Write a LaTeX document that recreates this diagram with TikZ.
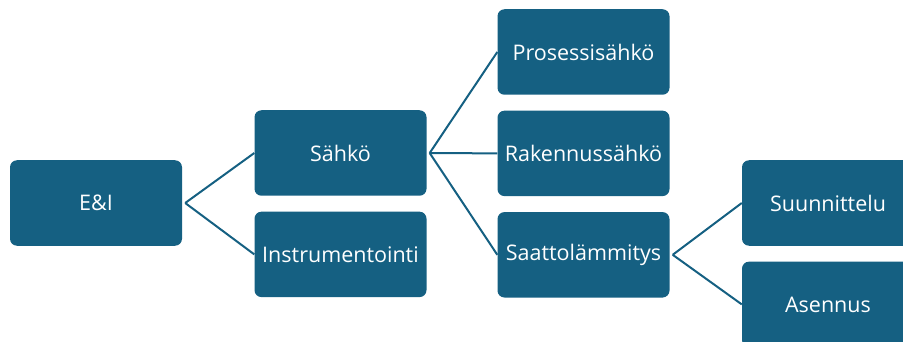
\documentclass[tikz,border=0pt]{standalone}
\usepackage{fontspec}
\setmainfont{Open Sans}
\usepackage{xcolor}
\usepackage{tikz}
\usetikzlibrary{positioning}
\definecolor{boxblue}{HTML}{156082}

\begin{document}
\begin{tikzpicture}[x=1pt, y=-1pt,
  every node/.style={inner sep=1.5pt},
  box/.style={rectangle, rounded corners=7pt, fill=boxblue, text=white,
    minimum width=172pt, minimum height=85.5pt, font=\fontsize{21.5}{24}\selectfont},
  link/.style={draw=boxblue, line width=2pt}]
  \useasboundingbox (0,0) rectangle (903,342);
  \node[box] (ei) at (96,203) {E\&I};
  \node[box] (sahko) at (340.5,153) {Sähkö};
  \node[box,below=15.5pt of sahko] (instr) {Instrumentointi};
  \node[box] (prosessi) at (583.5,52) {Prosessisähkö};
  \node[box,below=15.5pt of prosessi] (rakennus) {Rakennussähkö};
  \node[box,below=15.5pt of rakennus] (saatto) {Saattolämmitys};
  \node[box] (suunn) at (828,203) {Suunnittelu};
  \node[box,below=15.5pt of suunn] (asennus) {Asennus};
  \draw[link] ([xshift=3pt]ei.east) -- (sahko.west);
  \draw[link] ([xshift=3pt]ei.east) -- (instr.west);
  \draw[link] ([xshift=3pt]sahko.east) -- (prosessi.west);
  \draw[link] ([xshift=3pt]sahko.east) -- (rakennus.west);
  \draw[link] ([xshift=3pt]sahko.east) -- (saatto.west);
  \draw[link] ([xshift=3pt]saatto.east) -- (suunn.west);
  \draw[link] ([xshift=3pt]saatto.east) -- (asennus.west);
\end{tikzpicture}
\end{document}
